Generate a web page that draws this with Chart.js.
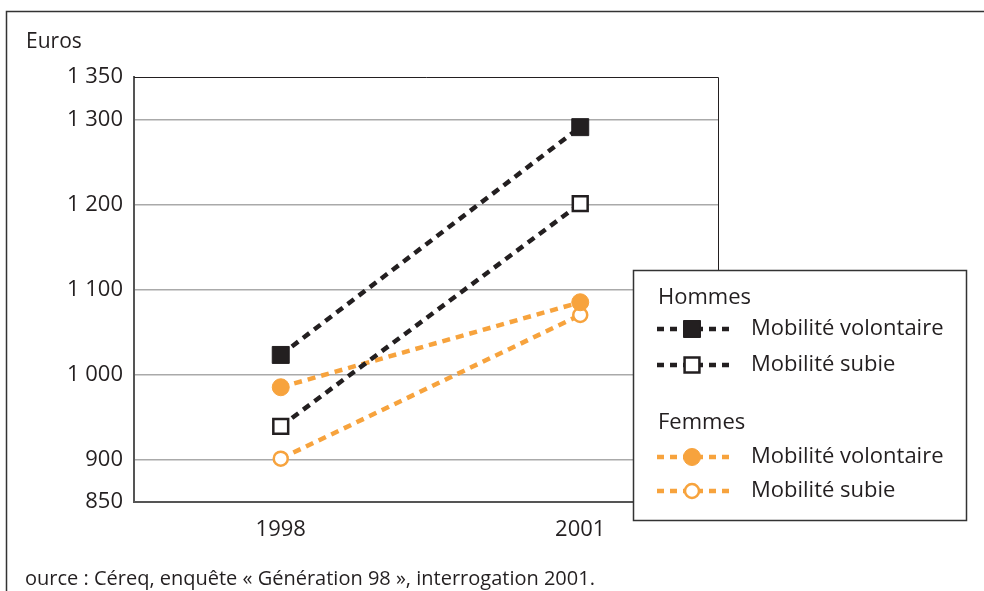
<!DOCTYPE html>
<html>
<head>
<meta charset="utf-8">
<script src="https://cdn.jsdelivr.net/npm/chart.js@4/dist/chart.umd.min.js"></script>
<style>
  html, body { margin: 0; padding: 0; background: #fff; }
  #wrap { position: relative; width: 984px; height: 591px; }
</style>
</head>
<body>
<div id="wrap"><canvas id="myChart" width="984" height="591"></canvas></div>
<script>
const years = [1998, 2001];
const hommesVolontaire = [1023, 1291];
const hommesSubie = [939, 1201];
const femmesVolontaire = [985, 1085];
const femmesSubie = [901, 1070];
const yTicks = [850, 900, 1000, 1100, 1200, 1300, 1350];

const BLACK = '#231f20';
const ORANGE = '#f7a33d';
const FONT = '"Open Sans", "DejaVu Sans", sans-serif';

function toPoints(values) {
  return years.map((y, i) => ({ x: y, y: values[i] }));
}

function frenchNumber(v) {
  return String(v).replace(/\B(?=(\d{3})+(?!\d))/g, ' ');
}

function makeSet(label, group, values, color, style, filled) {
  let isRect = style === 'rect';
  return {
    label: label,
    group: group,
    data: toPoints(values),
    borderColor: color,
    borderWidth: 4.5,
    borderDash: [8, 6],
    pointStyle: style,
    pointRadius: isRect ? (filled ? 12 : 10.5) : (filled ? 8.5 : 7),
    pointBorderWidth: filled ? 1 : 2.5,
    pointBorderColor: color,
    pointBackgroundColor: filled ? color : '#fff',
    fill: false,
    tension: 0
  };
}

// cadre, titres et légende dessinés après le graphique
const decorPlugin = {
  id: 'decor',
  afterDraw(chart) {
    const ctx = chart.ctx;
    const area = chart.chartArea;
    ctx.save();

    // cadre extérieur
    ctx.strokeStyle = '#333';
    ctx.lineWidth = 1.5;
    ctx.beginPath();
    ctx.moveTo(6.5, 591);
    ctx.lineTo(6.5, 11.5);
    ctx.lineTo(984, 11.5);
    ctx.stroke();

    // haut et droite de la zone de tracé
    ctx.strokeStyle = BLACK;
    ctx.lineWidth = 1;
    ctx.beginPath();
    ctx.moveTo(area.left, area.top + 0.5);
    ctx.lineTo(area.right + 0.5, area.top + 0.5);
    ctx.lineTo(area.right + 0.5, area.bottom);
    ctx.stroke();

    ctx.fillStyle = BLACK;
    ctx.textBaseline = 'middle';
    ctx.textAlign = 'left';
    ctx.font = '21px ' + FONT;
    ctx.fillText('Euros', 26, 42);
    ctx.font = '20px ' + FONT;
    ctx.fillText('ource : Céreq, enquête « Génération 98 », interrogation 2001.', 25, 579);

    // légende
    const lx = 633, ly = 270, lw = 333, lh = 250;
    ctx.fillStyle = '#fff';
    ctx.fillRect(lx, ly, lw, lh);
    ctx.strokeStyle = '#333';
    ctx.lineWidth = 1.5;
    ctx.strokeRect(lx + 0.5, ly + 0.5, lw, lh);

    ctx.font = '22px ' + FONT;
    ctx.fillStyle = BLACK;
    ctx.fillText('Hommes', 658, 298);
    ctx.fillText('Femmes', 658, 423);

    const rows = [329, 365, 457, 491];
    chart.data.datasets.forEach((ds, i) => {
      const y = rows[i];
      ctx.save();
      ctx.strokeStyle = ds.borderColor;
      ctx.lineWidth = 4.5;
      ctx.setLineDash([7, 6]);
      ctx.beginPath();
      ctx.moveTo(657, y);
      ctx.lineTo(730, y);
      ctx.stroke();
      ctx.restore();
      ctx.fillStyle = ds.pointBackgroundColor;
      ctx.strokeStyle = ds.pointBorderColor;
      ctx.lineWidth = ds.pointBorderWidth;
      Chart.helpers.drawPoint(ctx, {
        pointStyle: ds.pointStyle,
        radius: ds.pointRadius,
        borderWidth: ds.pointBorderWidth
      }, 692, y);
      ctx.fillStyle = BLACK;
      ctx.fillText(ds.label, 751, y);
    });

    ctx.restore();
  }
};

const ctx1 = document.getElementById('myChart');
const myChart = new Chart(ctx1, {
  type: 'line',
  data: {
    datasets: [
      makeSet('Mobilité volontaire', 'Hommes', hommesVolontaire, BLACK, 'rect', true),
      makeSet('Mobilité subie', 'Hommes', hommesSubie, BLACK, 'rect', false),
      makeSet('Mobilité volontaire', 'Femmes', femmesVolontaire, ORANGE, 'circle', true),
      makeSet('Mobilité subie', 'Femmes', femmesSubie, ORANGE, 'circle', false)
    ]
  },
  plugins: [decorPlugin],
  options: {
    responsive: false,
    animation: false,
    layout: { padding: { left: 0, top: 77, right: 266, bottom: 0 } },
    plugins: {
      legend: { display: false },
      tooltip: { enabled: false }
    },
    scales: {
      x: {
        type: 'linear',
        min: 1996.53,
        max: 2002.38,
        afterBuildTicks: (scale) => { scale.ticks = years.map(v => ({ value: v })); },
        afterFit: (scale) => { scale.height = 89; },
        grid: { display: false, drawTicks: false },
        border: { display: true, color: '#555', width: 2 },
        ticks: {
          padding: 15,
          color: BLACK,
          font: { family: FONT, size: 22 },
          callback: (v) => String(v)
        }
      },
      y: {
        type: 'linear',
        min: 850,
        max: 1350,
        afterBuildTicks: (scale) => { scale.ticks = yTicks.map(v => ({ value: v })); },
        afterFit: (scale) => { scale.width = 134; },
        grid: {
          drawTicks: false,
          lineWidth: 1.5,
          color: (c) => (c.tick && (c.tick.value === 850 || c.tick.value === 1350)) ? 'rgba(0,0,0,0)' : '#aaa'
        },
        border: { display: true, color: '#555', width: 2 },
        ticks: {
          padding: 11,
          color: BLACK,
          font: { family: FONT, size: 22 },
          callback: (v) => frenchNumber(v)
        }
      }
    }
  }
});
</script>
</body>
</html>
